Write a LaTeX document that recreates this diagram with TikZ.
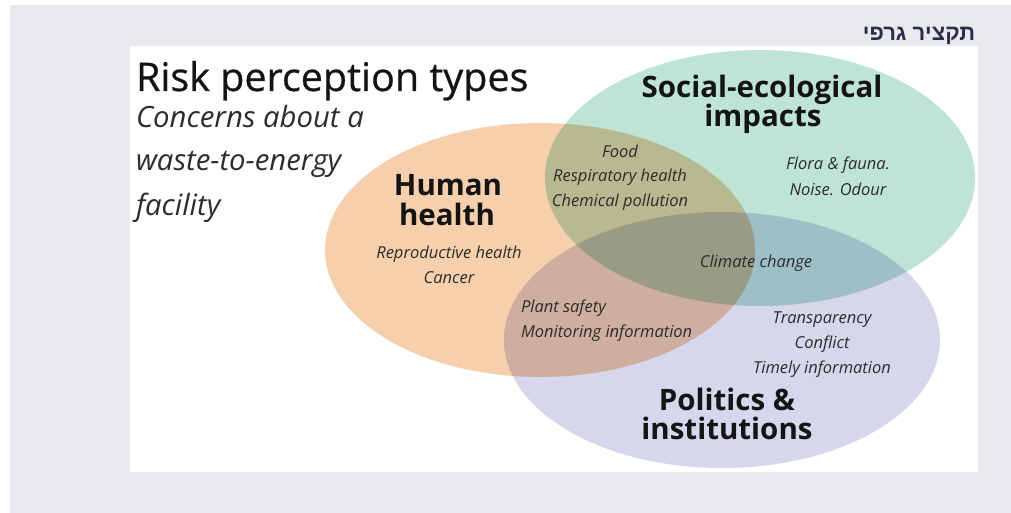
\documentclass[tikz,border=0pt]{standalone}
\usepackage{fontspec}
\setmainfont{Open Sans}
\newfontfamily\titlefont[FakeBold=0.6]{Open Sans}
\newfontfamily\hebfont[Script=Hebrew]{Liberation Sans}
\TeXXeTstate=1
\definecolor{pagegray}{HTML}{E9EAEE}
\definecolor{hhfill}{HTML}{F6D0AC}
\definecolor{sefill}{HTML}{BEE4D6}
\definecolor{pifill}{HTML}{D6D6EC}
\definecolor{ink}{HTML}{141414}
\definecolor{softink}{HTML}{2C2C2C}
\definecolor{navy}{HTML}{2A2C48}
\begin{document}
\begin{tikzpicture}[x=1pt,y=-1pt,
  every node/.style={inner sep=0pt, outer sep=0pt},
  setlabel/.style={font=\bfseries\fontsize{29.5}{29.5}\selectfont, text=ink, align=center, anchor=base},
  item/.style={font=\itshape\fontsize{16.5}{25}\selectfont, text=softink, align=center, anchor=base},
  subtitle/.style={font=\itshape\fontsize{29.3}{43}\selectfont, text=softink, anchor=base west}]
\useasboundingbox (0,0) rectangle (1011,513);
\fill[white] (0,0) rectangle (1011,513);
\fill[pagegray] (10,5) rectangle (1011,513);
\fill[white] (130,46) rectangle (978,472);

% the three overlapping risk domains
\begin{scope}[blend group=multiply]
  \fill[hhfill] (540,250) ellipse [x radius=215pt, y radius=127pt];
  \fill[sefill] (760,178) ellipse [x radius=215pt, y radius=128pt];
  \fill[pifill] (722,340) ellipse [x radius=218pt, y radius=128pt];
\end{scope}

% heading
\node[anchor=base west, font=\titlefont\fontsize{39.5}{44}\selectfont, text=ink] (title) at (136,91) {Risk perception types};
\node[subtitle] (sub1) at (136,128) {Concerns about a};
\node[subtitle] (sub2) at (136,171) {waste-to-energy};
\node[subtitle] (sub3) at (136,215) {facility};
\node[anchor=base east, font=\hebfont\bfseries\fontsize{22}{24}\selectfont, text=navy] (heb) at (975,41) {\beginR תקציר גרפי\endR};

% domain names
\node[setlabel] (hh1) at (448,195) {Human};
\node[setlabel] (hh2) at (447,225) {health};
\node[setlabel] (se1) at (762,98) {Social-ecological};
\node[setlabel] (se2) at (763,127) {impacts};
\node[setlabel] (pi1) at (727,410) {Politics \&};
\node[setlabel] (pi2) at (727,439) {institutions};

% concerns in each region (anchored at the baseline of the last line)
\node[item] (hhse) at (620,207) {Food\\Respiratory health\\Chemical pollution};
\node[item] (seonly) at (838,195) {Flora \& fauna.\\Noise. Odour};
\node[item] (hhonly) at (449,283) {Reproductive health\\Cancer};
\node[item] (all) at (756,267) {Climate change};
\node[item, align=left, anchor=base west] (hhpi) at (521,337) {Plant safety\\Monitoring information};
\node[item] (pionly) at (822,373) {Transparency\\Conflict\\Timely information};
\end{tikzpicture}
\end{document}
